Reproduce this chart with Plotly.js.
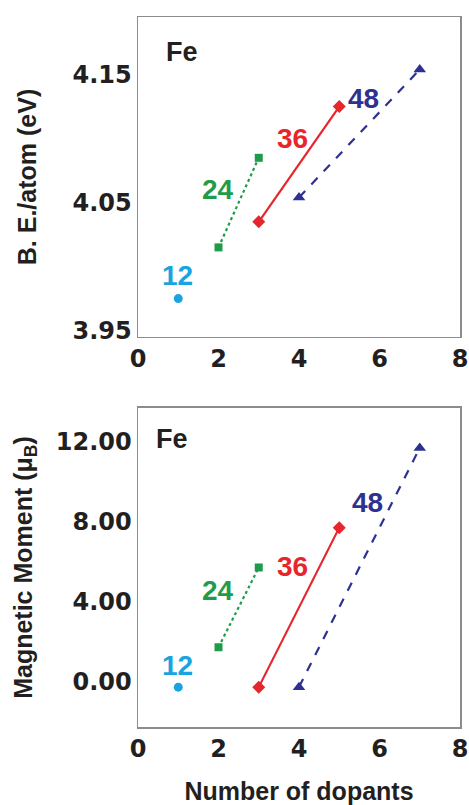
<!DOCTYPE html>
<html>
<head>
<meta charset="utf-8">
<script src="https://cdn.plot.ly/plotly-3.0.1.min.js"></script>
<style>
html,body{margin:0;padding:0;background:#fff;}
#chart{width:469px;height:805px;}
</style>
</head>
<body>
<div id="chart"></div>
<script>
// ---- data ----
const seriesNames = ["12", "24", "36", "48"];
const dopants12 = [1];
const dopants24 = [2, 3];
const dopants36 = [3, 5];
const dopants48 = [4, 7];
const bindingEnergy12 = [3.980];
const bindingEnergy24 = [4.020, 4.090];
const bindingEnergy36 = [4.040, 4.130];
const bindingEnergy48 = [4.059, 4.159];
const magMoment12 = [0];
const magMoment24 = [2, 6];
const magMoment36 = [0, 8];
const magMoment48 = [0, 12];
const xTicks = [0, 2, 4, 6, 8];
const beTicks = [3.95, 4.05, 4.15];
const mmTicks = [0, 4, 8, 12];

// ---- styles ----
const colors = ["#1ba3e0", "#1f9c4b", "#e6262c", "#2e3192"];
const symbols = ["circle", "square", "diamond", "triangle-up"];
const sizes = [9, 8, 10, 11];
const dashes = ["solid", "dot", "solid", "dash"];

const xs = [dopants12, dopants24, dopants36, dopants48];
const bes = [bindingEnergy12, bindingEnergy24, bindingEnergy36, bindingEnergy48];
const mms = [magMoment12, magMoment24, magMoment36, magMoment48];

const traces = [];
for (let i = 0; i < 4; i++) {
  traces.push({
    x: xs[i], y: bes[i], xaxis: "x", yaxis: "y", type: "scatter",
    mode: xs[i].length > 1 ? "lines+markers" : "markers",
    name: seriesNames[i], showlegend: false,
    line: {color: colors[i], width: 2.2, dash: dashes[i]},
    marker: {color: colors[i], symbol: symbols[i], size: sizes[i]}
  });
  traces.push({
    x: xs[i], y: mms[i], xaxis: "x2", yaxis: "y2", type: "scatter",
    mode: xs[i].length > 1 ? "lines+markers" : "markers",
    name: seriesNames[i], showlegend: false,
    line: {color: colors[i], width: 2.2, dash: dashes[i]},
    marker: {color: colors[i], symbol: symbols[i], size: sizes[i]}
  });
}

const tickFont = {family: "DejaVu Sans", size: 24, color: "#231f20", weight: "bold"};
const titleFont = {family: "Liberation Sans, Arial, sans-serif", size: 25, color: "#231f20", weight: "bold"};
const lblFont = (c, s) => ({family: "Liberation Sans, Arial, sans-serif", size: s, color: c, weight: "bold"});

const axisCommon = {
  showline: true, mirror: true, linecolor: "#8c8c8c", linewidth: 1.5,
  showgrid: false, zeroline: false, ticks: "", tickfont: tickFont
};

const layout = {
  width: 469, height: 805,
  margin: {l: 138, r: 9, t: 17, b: 78},
  paper_bgcolor: "#fff", plot_bgcolor: "#fff",
  showlegend: false,
  xaxis: Object.assign({}, axisCommon, {domain: [0, 1], anchor: "y", range: [0, 8], tickvals: xTicks, ticktext: xTicks.map(String)}),
  yaxis: Object.assign({}, axisCommon, {domain: [0.5493, 1], anchor: "x", range: [3.95, 4.20], tickvals: beTicks, ticktext: beTicks.map(v => v.toFixed(2)),
    ticklabelshift: -6,
    title: {text: "B. E./atom (eV)", font: titleFont, standoff: 28}}),
  xaxis2: Object.assign({}, axisCommon, {domain: [0, 1], anchor: "y2", range: [0, 8], tickvals: xTicks, ticktext: xTicks.map(String),
    title: {text: "Number of dopants", font: titleFont, standoff: 22}}),
  yaxis2: Object.assign({}, axisCommon, {domain: [0, 0.4493], anchor: "x2", range: [-2, 14], tickvals: mmTicks, ticktext: mmTicks.map(v => v.toFixed(2)),
    ticklabelshift: -6,
    title: {text: "Magnetic Moment (μ<sub>B</sub>)", font: titleFont, standoff: 16}}),
  annotations: [
    {xref: "x", yref: "y", x: 1.09, y: 4.173, text: "Fe", showarrow: false, font: lblFont("#231f20", 27)},
    {xref: "x", yref: "y", x: 0.99, y: 3.998, text: seriesNames[0], showarrow: false, font: lblFont(colors[0], 28)},
    {xref: "x", yref: "y", x: 1.99, y: 4.065, text: seriesNames[1], showarrow: false, font: lblFont(colors[1], 28)},
    {xref: "x", yref: "y", x: 3.83, y: 4.105, text: seriesNames[2], showarrow: false, font: lblFont(colors[2], 28)},
    {xref: "x", yref: "y", x: 5.59, y: 4.136, text: seriesNames[3], showarrow: false, font: lblFont(colors[3], 28)},
    {xref: "x2", yref: "y2", x: 0.845, y: 12.44, text: "Fe", showarrow: false, font: lblFont("#231f20", 27)},
    {xref: "x2", yref: "y2", x: 0.99, y: 1.10, text: seriesNames[0], showarrow: false, font: lblFont(colors[0], 28)},
    {xref: "x2", yref: "y2", x: 1.99, y: 4.87, text: seriesNames[1], showarrow: false, font: lblFont(colors[1], 28)},
    {xref: "x2", yref: "y2", x: 3.83, y: 6.07, text: seriesNames[2], showarrow: false, font: lblFont(colors[2], 28)},
    {xref: "x2", yref: "y2", x: 5.71, y: 9.28, text: seriesNames[3], showarrow: false, font: lblFont(colors[3], 28)}
  ]
};

Plotly.newPlot("chart", traces, layout, {staticPlot: true, displayModeBar: false});
</script>
</body>
</html>
